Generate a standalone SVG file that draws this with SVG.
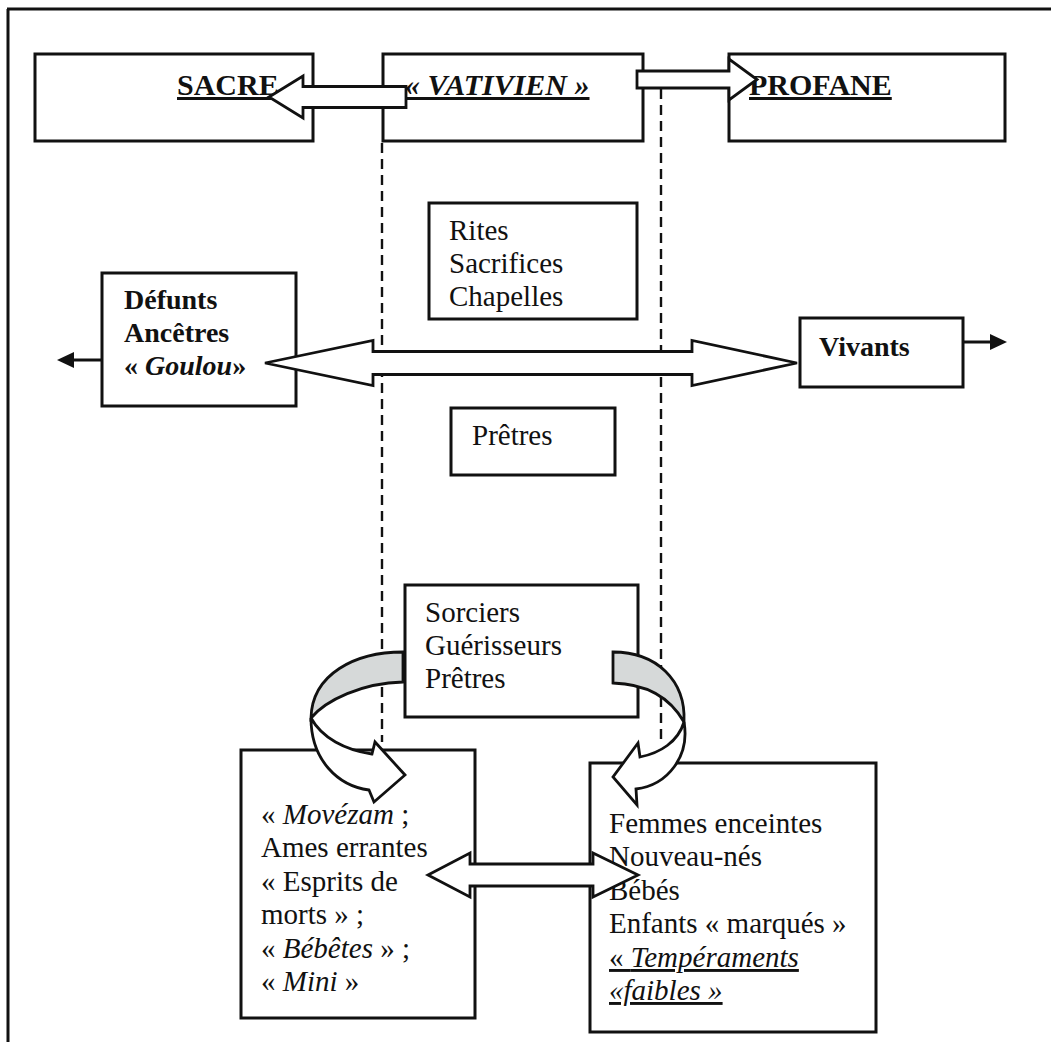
<svg xmlns="http://www.w3.org/2000/svg" width="1051" height="1042" viewBox="0 0 1051 1042">
<style>
  .box { fill: #ffffff; stroke: #111; stroke-width: 3; }
  .t { font-family: "Liberation Serif", "Times New Roman", serif; font-size: 29px; fill: #111; }
  .tb { font-family: "Liberation Serif", "Times New Roman", serif; font-size: 30px; font-weight: bold; fill: #111; text-decoration: underline; }
  .bd { font-family: "Liberation Serif", "Times New Roman", serif; font-size: 28px; font-weight: bold; fill: #111; }
  .it { font-style: italic; }
  .ul { text-decoration: underline; }
  .dash { stroke: #111; stroke-width: 2.4; stroke-dasharray: 10 6; fill: none; }
  .arr { fill: #ffffff; stroke: #111; stroke-width: 2.8; stroke-linejoin: miter; }
  .gray { fill: #d6d9d9; stroke: #111; stroke-width: 2.8; }
  .line { stroke: #111; stroke-width: 3; fill: none; }
  .head { fill: #111; stroke: none; }
</style>
<rect width="1051" height="1042" fill="#ffffff"/>
<g id="frame">
  <line class="line" x1="7" y1="9" x2="1051" y2="9"/>
  <line class="line" x1="8" y1="9" x2="8" y2="1042"/>
</g>
<g id="zone-lines">
  <line class="dash" x1="382" y1="143" x2="382" y2="742"/>
  <line class="dash" x1="661" y1="89" x2="661" y2="742"/>
</g>
<g id="sacre">
  <rect class="box" x="35" y="54" width="278" height="87"/>
  <text class="tb" x="177" y="95">SACRE</text>
</g>
<g id="vativien">
  <rect class="box" x="383" y="54" width="260" height="87"/>
  <text class="tb it" x="405" y="95">« VATIVIEN »</text>
</g>
<g id="profane">
  <rect class="box" x="729" y="54" width="276" height="87"/>
  <text class="tb" x="749" y="95">PROFANE</text>
</g>
<g id="rites">
  <rect class="box" x="429" y="203" width="208" height="116"/>
  <text class="t" x="449" y="240">Rites</text>
  <text class="t" x="449" y="273">Sacrifices</text>
  <text class="t" x="449" y="306">Chapelles</text>
</g>
<g id="defunts">
  <rect class="box" x="102" y="273" width="194" height="133"/>
  <text class="bd" x="124" y="309">Défunts</text>
  <text class="bd" x="124" y="342">Ancêtres</text>
  <text class="bd" x="124" y="375">« <tspan class="it">Goulou</tspan>»</text>
</g>
<g id="vivants">
  <rect class="box" x="800" y="318" width="163" height="69"/>
  <text class="bd" x="819" y="356">Vivants</text>
</g>
<g id="pretres">
  <rect class="box" x="451" y="408" width="164" height="67"/>
  <text class="t" x="472" y="445">Prêtres</text>
</g>
<g id="sorciers">
  <rect class="box" x="405" y="585" width="233" height="132"/>
  <text class="t" x="425" y="622">Sorciers</text>
  <text class="t" x="425" y="655">Guérisseurs</text>
  <text class="t" x="425" y="688">Prêtres</text>
</g>
<g id="esprits">
  <rect class="box" x="241" y="750" width="234" height="268"/>
  <text class="t" x="261" y="824">« <tspan class="it">Movézam</tspan> ;</text>
  <text class="t" x="261" y="857">Ames errantes</text>
  <text class="t" x="261" y="891">« Esprits de</text>
  <text class="t" x="261" y="924">morts » ;</text>
  <text class="t" x="261" y="958">« <tspan class="it">Bébêtes</tspan> » ;</text>
  <text class="t" x="261" y="991">« <tspan class="it">Mini</tspan> »</text>
</g>
<g id="enfants">
  <rect class="box" x="590" y="763" width="286" height="269"/>
  <text class="t" x="609" y="833">Femmes enceintes</text>
  <text class="t" x="609" y="866">Nouveau-nés</text>
  <text class="t" x="609" y="900">Bébés</text>
  <text class="t" x="609" y="933">Enfants « marqués »</text>
  <text class="t ul" x="609" y="967">« <tspan class="it">Tempéraments</tspan></text>
  <text class="t ul it" x="609" y="1000">«faibles »</text>
</g>
<g id="connectors">
  <polygon class="arr" points="269,97 303,76 303,86.5 406,86.5 406,107.5 303,107.5 303,118"/>
  <polygon class="arr" points="637,71 729,71 729,59 757,79.5 729,100 729,88 637,88"/>
  <polygon class="arr" points="265,363 373,340.5 373,351.5 692,351.5 692,340.5 797,363 692,385.5 692,374.5 373,374.5 373,385.5"/>
  <line class="line" x1="102" y1="360" x2="72" y2="360"/>
  <polygon class="head" points="57,360 74,352 74,368"/>
  <line class="line" x1="963" y1="342" x2="991" y2="342"/>
  <polygon class="head" points="1007,342 990,334 990,350"/>
  <path class="gray" d="M403,652 C355,652 312,674 311,718 C326,700 362,683 403,682 Z"/>
  <path class="arr" d="M311,718 C311,760 338,786 369,790 L374,802 L405,775 L375,742 L372,754 C345,750 322,738 311,718 Z"/>
  <path class="gray" d="M613,652 C656,652 686,680 684,722 C672,701 650,684 613,683 Z"/>
  <path class="arr" d="M684,722 C690,756 668,785 636,789 L637,805 L613,777 L638,743 L640,757 C660,753 678,742 684,722 Z"/>
  <polygon class="arr" points="428,875 470,853 470,864 593,864 593,853 638,875 593,897 593,886 470,886 470,897"/>
</g>
</svg>
